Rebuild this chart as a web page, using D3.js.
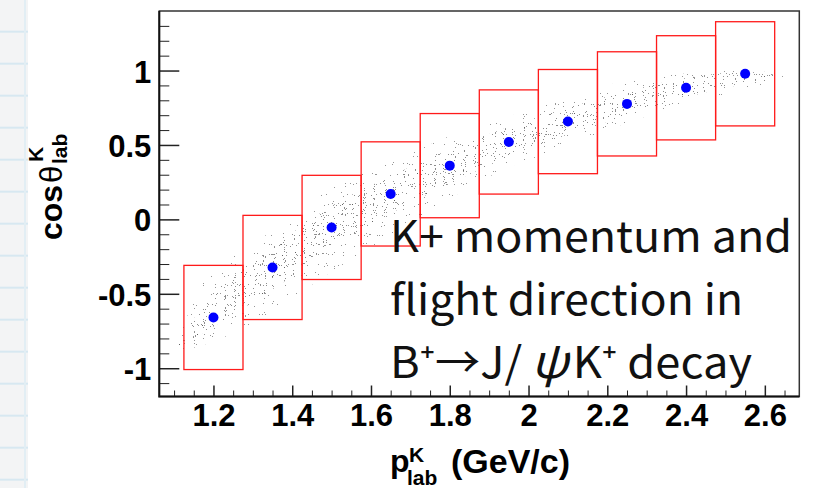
<!DOCTYPE html>
<html>
<head>
<meta charset="utf-8">
<script src="https://cdn.jsdelivr.net/npm/d3@7"></script>
<style>
  html, body { margin: 0; padding: 0; background: #ffffff; }
  svg { display: block; }
</style>
</head>
<body>
<svg id="chart" width="817" height="488"></svg>
<script>
// Kaon lab momentum bins (GeV/c) and mean cos(theta_lab) per bin
const pBins   = [1.2, 1.35, 1.5, 1.65, 1.8, 1.95, 2.1, 2.25, 2.4, 2.55];
const cosMean = [-0.659, -0.323, -0.054, 0.171, 0.361, 0.520, 0.657, 0.776, 0.884, 0.978];
const binWidth = 0.15;
const boxHalfHeight = 0.35;

// Envelope of the simulated event cloud (outer sparse halo and denser core)
const cloudP      = [1.11, 1.2, 1.35, 1.5, 1.65, 1.8, 1.95, 2.1, 2.25, 2.4, 2.55, 2.65];
const cloudOutLo  = [-0.89, -0.82, -0.62, -0.35, -0.12, 0.14, 0.35, 0.49, 0.65, 0.77, 0.87, 0.93];
const cloudOutHi  = [-0.80, -0.32, -0.08, 0.22, 0.38, 0.56, 0.69, 0.83, 0.93, 0.98, 1.00, 0.97];
const cloudCoreLo = [-0.86, -0.72, -0.47, -0.20, 0.04, 0.24, 0.42, 0.57, 0.70, 0.82, 0.91, 0.94];
const cloudCoreHi = [-0.82, -0.50, -0.19, 0.09, 0.29, 0.47, 0.62, 0.75, 0.86, 0.95, 0.99, 0.96];

// Axis ticks
const xTicks      = [1.2, 1.4, 1.6, 1.8, 2.0, 2.2, 2.4, 2.6];
const xTickLabels = ["1.2", "1.4", "1.6", "1.8", "2", "2.2", "2.4", "2.6"];
const yTicks      = [-1, -0.5, 0, 0.5, 1];
const yTickLabels = ["-1", "-0.5", "0", "0.5", "1"];

// Annotation lines
const annotation = ["K+ momentum and", "flight direction in"];
const decayParts = ["B\u207A\u2192J/\u2009", "\u03C8", "K\u207A decay"];

const svg = d3.select("#chart");
const W = 817, H = 488;
const frame = { left: 159.3, right: 799.3, top: 11, bottom: 396.5 };

const x = d3.scaleLinear().domain([1.0625, 2.6875]).range([frame.left, frame.right]);
const y = d3.scaleLinear().domain([-1.19, 1.40]).range([frame.bottom, frame.top]);

const defs = svg.append("defs");

// ---- page background: grey ruled strip at the left edge ----
svg.append("rect").attr("x", 0).attr("y", 0).attr("width", W).attr("height", H).attr("fill", "#ffffff");
svg.append("rect").attr("x", 0).attr("y", 0).attr("width", 28).attr("height", H).attr("fill", "#f3f4f5");
svg.append("g").selectAll("line").data(d3.range(31.7, H, 32)).join("line")
  .attr("x1", 0).attr("x2", 28).attr("y1", d => d).attr("y2", d => d)
  .attr("stroke", "#d7e8f1").attr("stroke-width", 2);
svg.append("line").attr("x1", 25).attr("x2", 25).attr("y1", 0).attr("y2", H)
  .attr("stroke", "#e2eef4").attr("stroke-width", 2);

// ---- stipple filters for the event cloud ----
function stippleFilter(id, seed, freq, threshold, alpha) {
  const f = defs.append("filter").attr("id", id)
    .attr("filterUnits", "userSpaceOnUse")
    .attr("x", 0).attr("y", 0).attr("width", W).attr("height", H)
    .attr("color-interpolation-filters", "sRGB");
  f.append("feTurbulence").attr("type", "fractalNoise")
    .attr("baseFrequency", freq).attr("numOctaves", 1).attr("seed", seed).attr("result", "noise");
  f.append("feColorMatrix").attr("in", "noise").attr("type", "matrix")
    .attr("values", "0 0 0 0 0.25  0 0 0 0 0.25  0 0 0 0 0.25  1 0 0 0 0").attr("result", "mask");
  const n = 100;
  const table = d3.range(n).map(i => (i / n >= threshold ? alpha : 0)).join(" ");
  f.append("feComponentTransfer").attr("in", "mask").attr("result", "dots")
    .append("feFuncA").attr("type", "discrete").attr("tableValues", table);
  f.append("feComposite").attr("in", "dots").attr("in2", "SourceGraphic").attr("operator", "in");
}
stippleFilter("stipOuter", 11, 0.9, 0.72, 0.55);
stippleFilter("stipCore", 29, 0.9, 0.68, 0.6);

defs.append("clipPath").attr("id", "plotClip").append("rect")
  .attr("x", frame.left).attr("y", frame.top)
  .attr("width", frame.right - frame.left).attr("height", frame.bottom - frame.top);

const plot = svg.append("g").attr("clip-path", "url(#plotClip)");

const cloudIdx = d3.range(cloudP.length);
const outerArea = d3.area().curve(d3.curveMonotoneX)
  .x(i => x(cloudP[i])).y0(i => y(cloudOutLo[i])).y1(i => y(cloudOutHi[i]));
const coreArea = d3.area().curve(d3.curveMonotoneX)
  .x(i => x(cloudP[i])).y0(i => y(cloudCoreLo[i])).y1(i => y(cloudCoreHi[i]));

plot.append("path").attr("d", outerArea(cloudIdx)).attr("fill", "#000").attr("filter", "url(#stipOuter)");
plot.append("path").attr("d", coreArea(cloudIdx)).attr("fill", "#000").attr("filter", "url(#stipCore)");

// ---- per-bin boxes and mean markers ----
const bins = pBins.map((p, i) => ({ p, m: cosMean[i] }));
plot.append("g").selectAll("rect").data(bins).join("rect")
  .attr("x", d => x(d.p - binWidth / 2))
  .attr("y", d => y(d.m + boxHalfHeight))
  .attr("width", d => x(d.p + binWidth / 2) - x(d.p - binWidth / 2))
  .attr("height", d => y(d.m - boxHalfHeight) - y(d.m + boxHalfHeight))
  .attr("fill", "none").attr("stroke", "#ff1a1a").attr("stroke-width", 1.3);

plot.append("g").selectAll("circle").data(bins).join("circle")
  .attr("cx", d => x(d.p)).attr("cy", d => y(d.m)).attr("r", 5)
  .attr("fill", "#0000ff");

// ---- axes ----
const axisFont = "'Liberation Sans', Arial, Helvetica, sans-serif";
const tickColor = "#222";

const yMinor = d3.range(-11, 14).map(k => k / 10).filter(v => Math.abs(v * 2 - Math.round(v * 2)) > 1e-6);
svg.append("g").attr("transform", `translate(${frame.left},0)`)
  .call(d3.axisLeft(y).tickValues(yMinor).tickSizeInner(-10).tickSizeOuter(0).tickFormat(""))
  .call(g => g.select(".domain").remove())
  .attr("color", tickColor);
const yAxisG = svg.append("g").attr("transform", `translate(${frame.left},0)`)
  .call(d3.axisLeft(y).tickValues(yTicks).tickSizeInner(-20).tickSizeOuter(0).tickPadding(8)
    .tickFormat((d, i) => yTickLabels[i]))
  .call(g => g.select(".domain").remove())
  .attr("color", tickColor);
yAxisG.selectAll("line").attr("stroke-width", 1.5);
yAxisG.selectAll("text")
  .attr("font-family", axisFont).attr("font-weight", "bold").attr("font-size", 31)
  .attr("fill", "#000").attr("dy", "0.37em");

const xMinor = d3.range(22, 54).map(k => k / 20).filter(v => Math.abs(v * 5 - Math.round(v * 5)) > 1e-6);
svg.append("g").attr("transform", `translate(0,${frame.bottom})`)
  .call(d3.axisBottom(x).tickValues(xMinor).tickSizeInner(-6).tickSizeOuter(0).tickFormat(""))
  .call(g => g.select(".domain").remove())
  .attr("color", tickColor);
const xAxisG = svg.append("g").attr("transform", `translate(0,${frame.bottom})`)
  .call(d3.axisBottom(x).tickValues(xTicks).tickSizeInner(-11).tickSizeOuter(0).tickPadding(7)
    .tickFormat((d, i) => xTickLabels[i]))
  .call(g => g.select(".domain").remove())
  .attr("color", tickColor);
xAxisG.selectAll("line").attr("stroke-width", 1.5);
xAxisG.selectAll("text")
  .attr("font-family", axisFont).attr("font-weight", "bold").attr("font-size", 31)
  .attr("fill", "#000");

// frame
svg.append("rect")
  .attr("x", frame.left).attr("y", frame.top)
  .attr("width", frame.right - frame.left).attr("height", frame.bottom - frame.top)
  .attr("fill", "none").attr("stroke", "#333").attr("stroke-width", 1.5);
svg.append("path")
  .attr("d", `M${frame.left},${frame.top}V${frame.bottom}H${frame.right}`)
  .attr("fill", "none").attr("stroke", "#111").attr("stroke-width", 2);

// ---- axis titles ----
const xt = svg.append("g").attr("font-family", axisFont).attr("font-weight", "bold").attr("fill", "#000");
xt.append("text").attr("x", 390).attr("y", 472).attr("font-size", 32).text("p");
xt.append("text").attr("x", 409).attr("y", 462).attr("font-size", 21).text("K");
xt.append("text").attr("x", 407).attr("y", 485).attr("font-size", 21).text("lab");
xt.append("text").attr("x", 451).attr("y", 473).attr("font-size", 34).text("(GeV/c)");

const yt = svg.append("g").attr("transform", "translate(62,240) rotate(-90)")
  .attr("font-family", axisFont).attr("font-weight", "bold").attr("fill", "#000");
yt.append("text").attr("x", 0).attr("y", 0).attr("font-size", 32).text("cos");
yt.append("text").attr("x", 57).attr("y", 0).attr("font-size", 31).attr("font-weight", "normal").text("\u03B8");
yt.append("text").attr("x", 78).attr("y", -19).attr("font-size", 21).text("K");
yt.append("text").attr("x", 76).attr("y", 5).attr("font-size", 21).text("lab");

// ---- annotation ----
const noteFont = "'Noto Sans CJK JP', 'Noto Sans', sans-serif";
const noteWidths = [402, 353, 362];
const noteBase = [251.7, 315, 378.3];
const note = svg.append("g").attr("font-family", noteFont)
  .attr("font-weight", 400).attr("font-size", 43).attr("fill", "#111");
note.selectAll("text.line").data(annotation).join("text").attr("class", "line")
  .attr("x", 390).attr("y", (d, i) => noteBase[i])
  .attr("textLength", (d, i) => noteWidths[i]).attr("lengthAdjust", "spacingAndGlyphs")
  .text(d => d);
const decay = note.append("text").attr("x", 390).attr("y", noteBase[2])
  .attr("textLength", noteWidths[2]).attr("lengthAdjust", "spacingAndGlyphs");
decay.append("tspan").text(decayParts[0]);
decay.append("tspan").attr("font-style", "italic").attr("font-size", 46).text(decayParts[1]);
decay.append("tspan").attr("dx", 4).text(decayParts[2]);
</script>
</body>
</html>
